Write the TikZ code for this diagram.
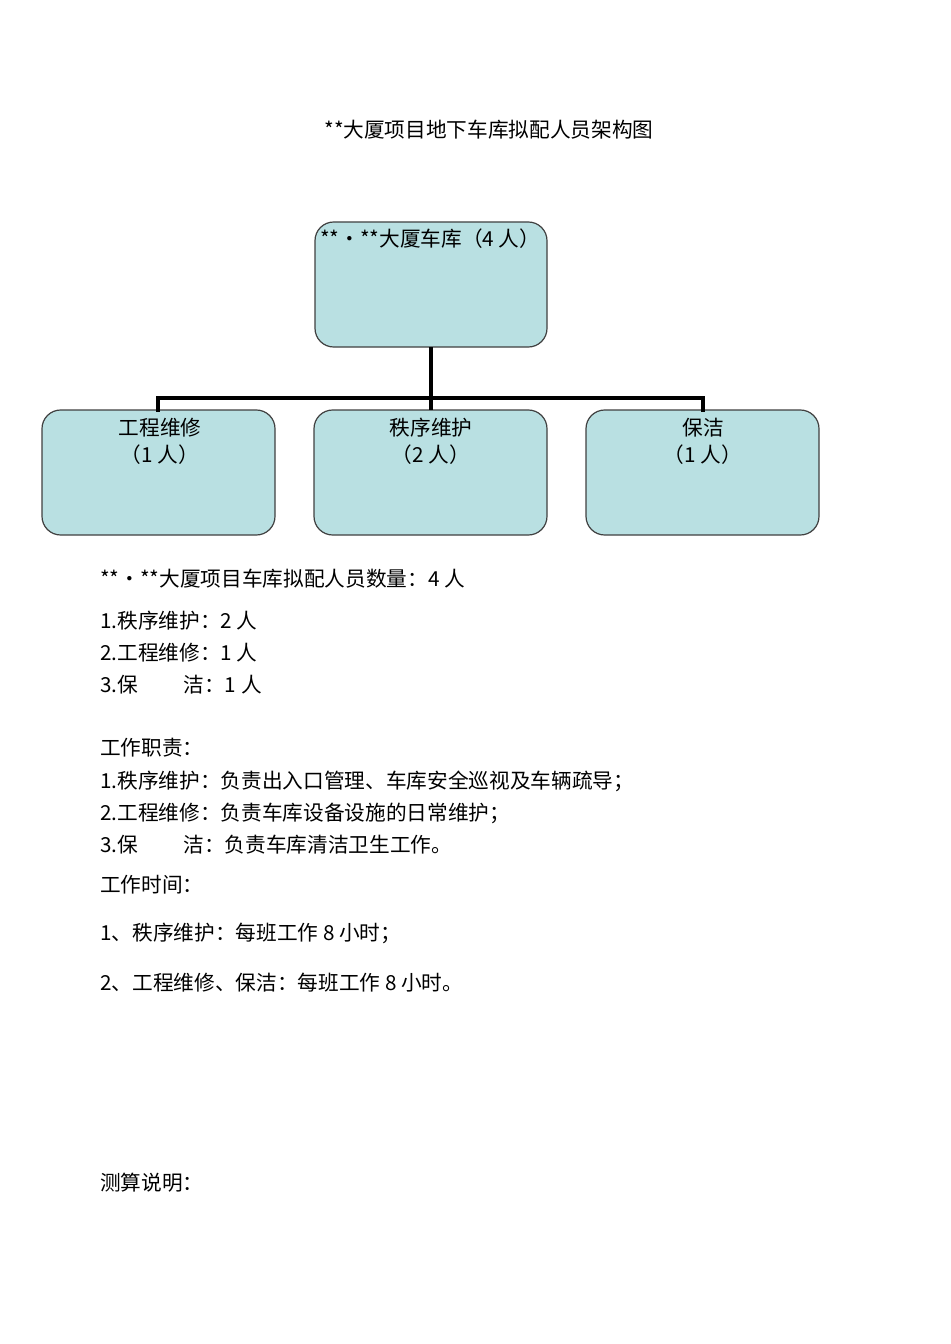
\documentclass[tikz,border=0pt]{standalone}
\usepackage{fontspec}
\setmainfont{Noto Sans CJK SC}
\begin{document}
\begin{tikzpicture}[x=0.75pt,y=-0.75pt,
  bx/.style={draw=black!75,line width=0.9pt,fill=boxc,rounded corners=14pt},
  tx/.style={anchor=west,inner sep=0pt,font=\fontsize{15.5}{18}\selectfont},
  ct/.style={inner sep=0pt,font=\fontsize{15.5}{20}\selectfont,align=center},
  ln/.style={line width=2.4pt,black}]
\definecolor{boxc}{HTML}{B9E0E2}
\useasboundingbox (0,0) rectangle (950,1344);
\node[ct] (title) at (489,130) {**大厦项目地下车库拟配人员架构图};
\draw[bx] (315,222) rectangle (547,347);
\coordinate (topb) at (431,347);
\node[tx] (toptx) at (320,239) {**•**大厦车库（4 人）};
\draw[bx] (42,410) rectangle (275,535);
\draw[bx] (314,410) rectangle (547,535);
\draw[bx] (586,410) rectangle (819,535);
\coordinate (j) at (431,398);
\coordinate (l) at (158,398);
\coordinate (r) at (703,398);
\coordinate (lb) at (158,410);
\coordinate (mb) at (431,410);
\coordinate (rb) at (703,410);
\draw[ln] (topb) -- (j);
\draw[ln,line cap=rect] (lb) -- (l) -- (r) -- (rb);
\draw[ln] (j) -- (mb);
\node[ct] (b1) at (160,441) {工程维修\\（1 人）};
\node[ct] (b2) at (431,441) {秩序维护\\（2 人）};
\node[ct] (b3) at (703,441) {保洁\\（1 人）};
\node[tx] (t1) at (100,579) {**•**大厦项目车库拟配人员数量：4 人};
\node[tx] (t2) at (100,621) {1.秩序维护：2 人};
\node[tx] (t3) at (100,653) {2.工程维修：1 人};
\node[tx] (t4) at (100,685) {3.保\hspace{2.2em}洁：1 人};
\node[tx] (t5) at (100,748) {工作职责：};
\node[tx] (t6) at (100,781) {1.秩序维护：负责出入口管理、车库安全巡视及车辆疏导；};
\node[tx] (t7) at (100,813) {2.工程维修：负责车库设备设施的日常维护；};
\node[tx] (t8) at (100,845) {3.保\hspace{2.2em}洁：负责车库清洁卫生工作。};
\node[tx] (t9) at (100,885) {工作时间：};
\node[tx] (t10) at (100,933) {1、秩序维护：每班工作 8 小时；};
\node[tx] (t11) at (100,983) {2、工程维修、保洁：每班工作 8 小时。};
\node[tx] (t12) at (100,1183) {测算说明：};
\end{tikzpicture}
\end{document}
